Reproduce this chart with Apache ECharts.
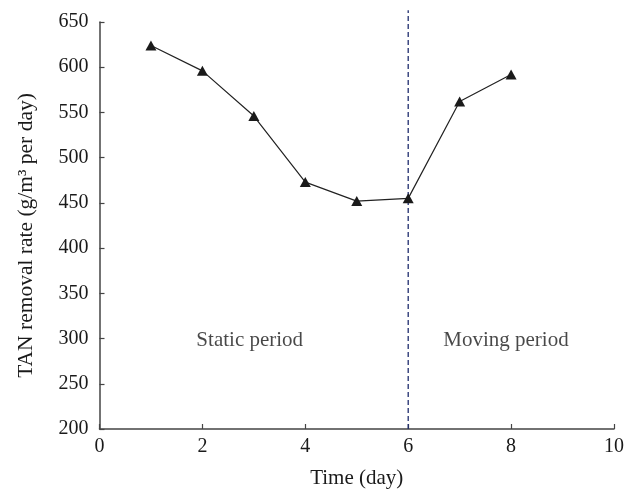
<!DOCTYPE html>
<html><head><meta charset="utf-8">
<script src="https://cdn.jsdelivr.net/npm/echarts@6/dist/echarts.min.js"></script>
<style>html,body{margin:0;padding:0;background:#fff}#c{width:627px;height:495px}</style>
</head><body><div id="c"></div>
<script>
const days = [1, 2, 3, 4, 5, 6, 7, 8];
const tanRate = [624, 596, 546, 473, 452, 455, 562, 592];
const divider = [[6, 200], [6, 663]];
const periodLabels = [
  { name: 'Static period', x: 2.92, y: 298 },
  { name: 'Moving period', x: 7.9, y: 298 }
];
const font = '"Liberation Serif", "Times New Roman", serif';
const chart = echarts.init(document.getElementById('c'));
chart.setOption({
  animation: false,
  grid: { left: 99.5, right: 11.5, top: 22, bottom: 66 },
  xAxis: {
    type: 'value', min: 0, max: 10, interval: 2,
    name: 'Time (day)', nameLocation: 'middle', nameGap: 39,
    nameTextStyle: { fontFamily: font, fontSize: 21, color: '#1a1a1a' },
    axisLine: { lineStyle: { color: '#444', width: 1.5 } },
    axisTick: { inside: true, length: 5, lineStyle: { color: '#444', width: 1.2 } },
    axisLabel: { fontFamily: font, fontSize: 20, color: '#1a1a1a', margin: 8 },
    splitLine: { show: false }
  },
  yAxis: {
    type: 'value', min: 200, max: 650, interval: 50,
    name: 'TAN removal rate (g/m³ per day)', nameLocation: 'middle', nameGap: 62,
    nameTextStyle: { fontFamily: font, fontSize: 21.5, color: '#1a1a1a', padding: [0, 20, 0, 0] },
    axisLine: { show: true, lineStyle: { color: '#444', width: 1.5 } },
    axisTick: { show: true, inside: true, length: 5, lineStyle: { color: '#444', width: 1.2 } },
    axisLabel: { fontFamily: font, fontSize: 20, color: '#1a1a1a', margin: 11 },
    splitLine: { show: false }
  },
  series: [
    {
      type: 'line', data: divider, clip: false, symbol: 'none', silent: true,
      lineStyle: { color: '#1f2d6e', width: 1.3, type: [5, 3] }
    },
    {
      type: 'line',
      data: days.map((d, i) => [d, tanRate[i]]),
      symbol: 'triangle', symbolSize: [11, 10],
      itemStyle: { color: '#1a1a1a' },
      lineStyle: { color: '#222', width: 1.2 }
    },
    {
      type: 'scatter', symbolSize: 0, silent: true,
      data: periodLabels.map(p => ({ name: p.name, value: [p.x, p.y] })),
      label: { show: true, position: 'inside', formatter: '{b}', fontFamily: font, fontSize: 21, color: '#1a1a1a' }
    }
  ]
});
</script></body></html>
